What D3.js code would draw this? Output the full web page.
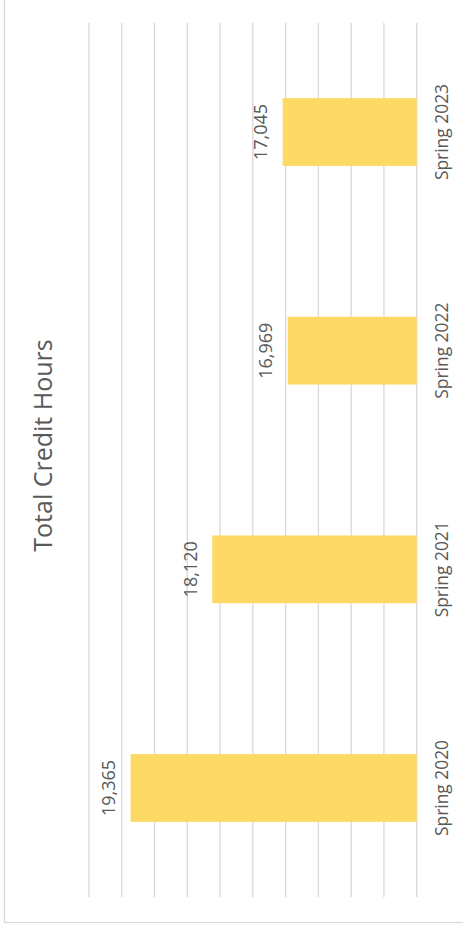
<!DOCTYPE html>
<html>
<head>
<meta charset="utf-8">
<script src="https://cdn.jsdelivr.net/npm/d3@7"></script>
<style>
  body { margin: 0; background: #fff; }
  text { font-family: "Open Sans", "Noto Sans", sans-serif; fill: #595959; }
</style>
</head>
<body>
<svg id="chart" width="463" height="928"></svg>
<script>
// data
var terms = ["Spring 2020", "Spring 2021", "Spring 2022", "Spring 2023"];
var creditHours = [19365, 18120, 16969, 17045];
var valueDomain = [15000, 20000];

/**
 * Column chart drawn upright, then the whole thing turned a quarter to the left
 */
function createCreditHoursChart() {
    var svg = d3.select("#chart");
    var W = 928, H = 463;   // size of the unrotated chart

    // outer frame (page coords)
    svg.append("rect")
        .attr("x", 4.5).attr("y", -10)
        .attr("width", 480).attr("height", 932.5)
        .attr("fill", "none")
        .attr("stroke", "#d9d9d9")
        .attr("stroke-width", 1.3);

    var g = svg.append("g")
        .attr("transform", "translate(0," + W + ") rotate(-90)");

    var x = d3.scaleBand()
        .domain(terms)
        .range([30.7, 905.3])
        .paddingInner(0.69)
        .paddingOuter(0.345);

    var y = d3.scaleLinear()
        .domain(valueDomain)
        .range([416.7, 89]);

    // gridlines
    g.append("g")
        .selectAll("line")
        .data(y.ticks(10))
        .enter()
        .append("line")
        .attr("x1", 30.7)
        .attr("x2", 905.3)
        .attr("y1", function (d) { return y(d); })
        .attr("y2", function (d) { return y(d); })
        .attr("stroke", "#d9d9d9")
        .attr("stroke-width", 1.3);

    // bars
    g.selectAll("rect.bar")
        .data(creditHours)
        .enter()
        .append("rect")
        .attr("class", "bar")
        .attr("x", function (d, i) { return x(terms[i]); })
        .attr("width", x.bandwidth())
        .attr("y", function (d) { return y(d); })
        .attr("height", function (d) { return y(valueDomain[0]) - y(d); })
        .attr("fill", "#ffd966");

    // value labels
    g.selectAll("text.val")
        .data(creditHours)
        .enter()
        .append("text")
        .attr("class", "val")
        .attr("x", function (d, i) { return x(terms[i]) + x.bandwidth() / 2; })
        .attr("y", function (d) { return y(d) - 15.5; })
        .attr("text-anchor", "middle")
        .style("font-size", "18px")
        .text(d3.format(","));

    // category axis
    var ax = g.append("g")
        .attr("transform", "translate(0," + y(valueDomain[0]) + ")")
        .call(d3.axisBottom(x).tickSize(0).tickPadding(18.5));
    ax.select(".domain").remove();
    ax.selectAll("text")
        .style("font-size", "17.4px")
        .style("font-family", "'Open Sans', 'Noto Sans', sans-serif")
        .attr("fill", "#595959");

    // title
    g.append("text")
        .attr("x", 482.5)
        .attr("y", 51.7)
        .attr("text-anchor", "middle")
        .style("font-size", "25px")
        .text("Total Credit Hours");
}

createCreditHoursChart();
</script>
</body>
</html>
